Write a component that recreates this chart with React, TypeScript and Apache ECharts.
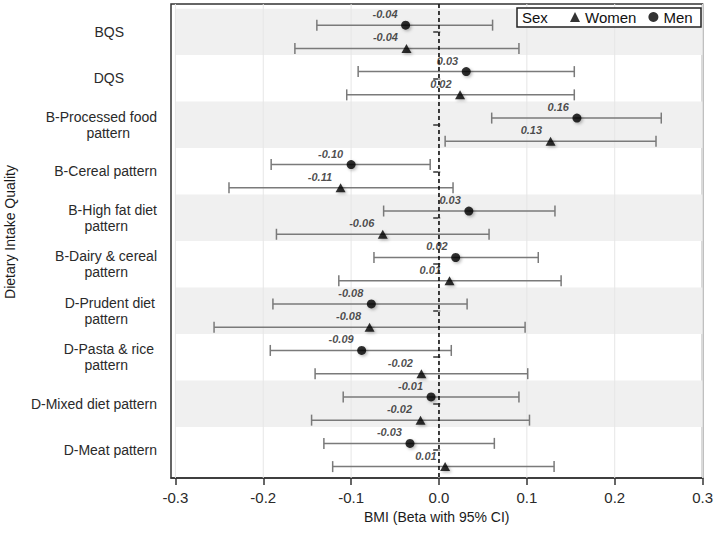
import React, { useEffect, useRef } from 'react';
import * as echarts from 'echarts';

// ---------- data ----------
const categories = [
  'BQS',
  'DQS',
  'B-Processed food pattern',
  'B-Cereal pattern',
  'B-High fat diet pattern',
  'B-Dairy & cereal pattern',
  'D-Prudent diet pattern',
  'D-Pasta & rice pattern',
  'D-Mixed diet pattern',
  'D-Meat pattern',
];
const categoryLines = [
  ['BQS'],
  ['DQS'],
  ['B-Processed food', 'pattern'],
  ['B-Cereal pattern'],
  ['B-High fat diet', 'pattern'],
  ['B-Dairy & cereal', 'pattern'],
  ['D-Prudent diet', 'pattern'],
  ['D-Pasta & rice', 'pattern'],
  ['D-Mixed diet pattern'],
  ['D-Meat pattern'],
];

const menBeta = [-0.038, 0.031, 0.157, -0.1, 0.034, 0.019, -0.077, -0.088, -0.009, -0.033];
const menLow = [-0.139, -0.092, 0.06, -0.191, -0.063, -0.074, -0.189, -0.192, -0.109, -0.131];
const menHigh = [0.061, 0.154, 0.253, -0.01, 0.132, 0.113, 0.032, 0.014, 0.091, 0.063];
const menLabels = ['-0.04', '0.03', '0.16', '-0.10', '0.03', '0.02', '-0.08', '-0.09', '-0.01', '-0.03'];

const womenBeta = [-0.037, 0.024, 0.127, -0.112, -0.064, 0.012, -0.079, -0.02, -0.021, 0.007];
const womenLow = [-0.164, -0.105, 0.007, -0.239, -0.185, -0.114, -0.256, -0.141, -0.145, -0.121];
const womenHigh = [0.091, 0.154, 0.247, 0.016, 0.057, 0.139, 0.098, 0.101, 0.103, 0.131];
const womenLabels = ['-0.04', '0.02', '0.13', '-0.11', '-0.06', '0.01', '-0.08', '-0.02', '-0.02', '0.01'];

const xTicks = [-0.3, -0.2, -0.1, 0, 0.1, 0.2, 0.3];
const shadedCategories = [0, 2, 4, 6, 8];

// ---------- styles ----------
const FONT = '"Liberation Sans", Arial, Helvetica, sans-serif';
const labelPad = [[33], [33], [0, 27], [0], [0, 29], [0, 29], [2, 29], [3, 29], [0], [0]];
const MEN_OFFSET = -0.145;
const WOMEN_OFFSET = 0.355;
const X_MIN = -0.305;
const X_MAX = 0.3;
const Y_MIN = 0.4;
const Y_MAX = 10.6;

function buildOption() {
  const pads = Array.from(new Set(labelPad.flat()));
  const rich: Record<string, any> = {};
  pads.forEach((p) => {
    rich['p' + p] = {
      fontSize: 14,
      fontFamily: FONT,
      color: '#2a2a2a',
      lineHeight: 16,
      align: 'right',
      padding: [0, p, 0, 0],
    };
  });

  const errRender = (params: any, api: any) => {
    const y = api.value(2);
    const a = api.coord([api.value(0), y]);
    const b = api.coord([api.value(1), y]);
    const h = 5.5;
    const style = { stroke: '#7a7a7a', lineWidth: 1.5 };
    return {
      type: 'group',
      children: [
        { type: 'line', shape: { x1: a[0], y1: a[1], x2: b[0], y2: b[1] }, style },
        { type: 'line', shape: { x1: a[0], y1: a[1] - h, x2: a[0], y2: a[1] + h }, style },
        { type: 'line', shape: { x1: b[0], y1: b[1] - h, x2: b[0], y2: b[1] + h }, style },
      ],
    };
  };

  const pointLabel = (labels: string[]) => ({
    show: true,
    position: 'left',
    distance: 3.5,
    offset: [0, -11],
    formatter: (p: any) => labels[p.dataIndex],
    fontStyle: 'italic',
    fontWeight: 'bold',
    fontSize: 11,
    fontFamily: FONT,
    color: '#1e1e1e',
  });

  const shadow = {
    shadowBlur: 3,
    shadowColor: 'rgba(0,0,0,0.35)',
    shadowOffsetX: 1.5,
    shadowOffsetY: 1.5,
  };

  return {
    animation: false,
    grid: [
      {
        left: 171,
        right: 11,
        top: 4,
        bottom: 55,
        show: true,
        borderColor: '#333',
        borderWidth: 1.5,
        backgroundColor: 'transparent',
      },
      {
        left: 171,
        right: 11,
        top: 8.65,
        bottom: 59.65,
      },
    ],
    xAxis: [
      {
        type: 'value',
        gridIndex: 0,
        min: X_MIN,
        max: X_MAX,
        axisLine: { show: true, lineStyle: { color: '#333', width: 1.5 } },
        axisTick: {
          show: true,
          length: 7,
          customValues: xTicks,
          lineStyle: { color: '#333', width: 1.5 },
        },
        axisLabel: {
          customValues: xTicks,
          formatter: (v: number) => v.toFixed(1),
          fontSize: 15,
          fontFamily: FONT,
          color: '#2a2a2a',
          margin: 12,
        },
        splitLine: { show: false },
        name: 'BMI (Beta with 95% CI)',
        nameLocation: 'middle',
        nameGap: 31,
        nameTextStyle: { fontSize: 14, fontFamily: FONT, color: '#1a1a1a' },
      },
      {
        type: 'value',
        gridIndex: 1,
        min: X_MIN,
        max: X_MAX,
        show: false,
      },
    ],
    yAxis: [
      {
        type: 'value',
        gridIndex: 0,
        min: Y_MIN,
        max: Y_MAX,
        inverse: true,
        show: false,
      },
      {
        type: 'category',
        gridIndex: 1,
        data: categories,
        inverse: true,
        boundaryGap: true,
        axisLine: { show: false },
        axisTick: {
          show: true,
          alignWithLabel: true,
          length: 7,
          lineStyle: { color: '#333', width: 1.5 },
        },
        axisLabel: {
          margin: 14,
          align: 'right',
          formatter: (v: string) => {
            const i = categories.indexOf(v);
            return categoryLines[i]
              .map((t, k) => `{p${labelPad[i][k]}|${t}}`)
              .join('\n');
          },
          rich,
        },
        splitLine: { show: false },
      },
    ],
    legend: {
      data: [
        { name: 'Women', icon: 'triangle' },
        { name: 'Men', icon: 'circle' },
      ],
      left: 570,
      top: 9.5,
      itemWidth: 10,
      itemHeight: 10,
      itemGap: 12,
      padding: 0,
      textStyle: { fontSize: 15, fontFamily: FONT, color: '#111' },
      z: 10,
    },
    graphic: [
      {
        type: 'rect',
        z: 5,
        shape: { x: 517, y: 8, width: 184, height: 19 },
        style: { fill: '#fff', stroke: '#222', lineWidth: 1.5 },
      },
      {
        type: 'text',
        z: 6,
        x: 522,
        y: 17.5,
        style: {
          text: 'Sex',
          fontSize: 15,
          fontFamily: FONT,
          fill: '#111',
          verticalAlign: 'middle',
          align: 'left',
        },
      },
      {
        type: 'text',
        x: 10,
        y: 232,
        rotation: Math.PI / 2,
        style: {
          text: 'Dietary Intake Quality',
          fontSize: 14,
          fontFamily: FONT,
          fill: '#1a1a1a',
          align: 'center',
          verticalAlign: 'middle',
        },
      },
    ],
    series: [
      {
        type: 'custom',
        name: 'bands',
        xAxisIndex: 0,
        yAxisIndex: 0,
        z: 0,
        silent: true,
        encode: { x: 0, y: 1 },
        data: shadedCategories.map((i) => [0, i + 1]),
        renderItem: (params: any, api: any) => {
          const c = api.value(1);
          const p1 = api.coord([-0.3, c - 0.5]);
          const p2 = api.coord([0.3, c + 0.5]);
          return {
            type: 'rect',
            shape: { x: p1[0], y: p1[1], width: p2[0] - p1[0], height: p2[1] - p1[1] },
            style: { fill: '#f0f0f0' },
          };
        },
      },
      {
        type: 'custom',
        name: 'gridlines',
        xAxisIndex: 0,
        yAxisIndex: 0,
        z: 1,
        silent: true,
        encode: { x: 0, y: 1 },
        data: xTicks.map((v) => [v, 1]),
        renderItem: (params: any, api: any) => {
          const v = api.value(0);
          const a = api.coord([v, Y_MIN]);
          const b = api.coord([v, Y_MAX]);
          return {
            type: 'line',
            shape: { x1: a[0], y1: a[1], x2: b[0], y2: b[1] },
            style: { stroke: '#e6e6e6', lineWidth: 1 },
          };
        },
      },
      {
        type: 'custom',
        name: 'Men CI',
        xAxisIndex: 0,
        yAxisIndex: 0,
        z: 3,
        silent: true,
        encode: { x: [0, 1], y: 2 },
        data: menBeta.map((_, i) => [menLow[i], menHigh[i], i + 1 + MEN_OFFSET]),
        renderItem: errRender,
      },
      {
        type: 'custom',
        name: 'Women CI',
        xAxisIndex: 0,
        yAxisIndex: 0,
        z: 3,
        silent: true,
        encode: { x: [0, 1], y: 2 },
        data: womenBeta.map((_, i) => [womenLow[i], womenHigh[i], i + 1 + WOMEN_OFFSET]),
        renderItem: errRender,
      },
      {
        type: 'custom',
        name: 'zero',
        xAxisIndex: 0,
        yAxisIndex: 0,
        z: 4,
        silent: true,
        encode: { x: 0, y: 1 },
        data: [[0, 1]],
        renderItem: (params: any, api: any) => {
          const a = api.coord([api.value(0), Y_MIN]);
          const b = api.coord([api.value(0), Y_MAX]);
          return {
            type: 'line',
            shape: { x1: a[0], y1: a[1], x2: b[0], y2: b[1] },
            style: { stroke: '#000', lineWidth: 1.5, lineDash: [4, 3] },
          };
        },
      },
      {
        type: 'scatter',
        name: 'Women',
        xAxisIndex: 0,
        yAxisIndex: 0,
        z: 5,
        symbol: 'triangle',
        symbolSize: [10, 9],
        itemStyle: { color: '#000', ...shadow },
        data: womenBeta.map((v, i) => [v, i + 1 + WOMEN_OFFSET]),
        label: pointLabel(womenLabels),
      },
      {
        type: 'scatter',
        name: 'Men',
        xAxisIndex: 0,
        yAxisIndex: 0,
        z: 5,
        symbol: 'circle',
        symbolSize: 9,
        itemStyle: { color: '#000', ...shadow },
        data: menBeta.map((v, i) => [v, i + 1 + MEN_OFFSET]),
        label: pointLabel(menLabels),
      },
    ],
  };
}

export default function App() {
  const ref = useRef<HTMLDivElement>(null);
  useEffect(() => {
    if (!ref.current) return;
    const chart = echarts.init(ref.current, null, { renderer: 'svg' });
    chart.setOption(buildOption() as any);
    return () => chart.dispose();
  }, []);
  return (
    <div
      ref={ref}
      style={{ position: 'absolute', left: 0, top: 0, width: 716, height: 533, background: '#fff' }}
    />
  );
}
